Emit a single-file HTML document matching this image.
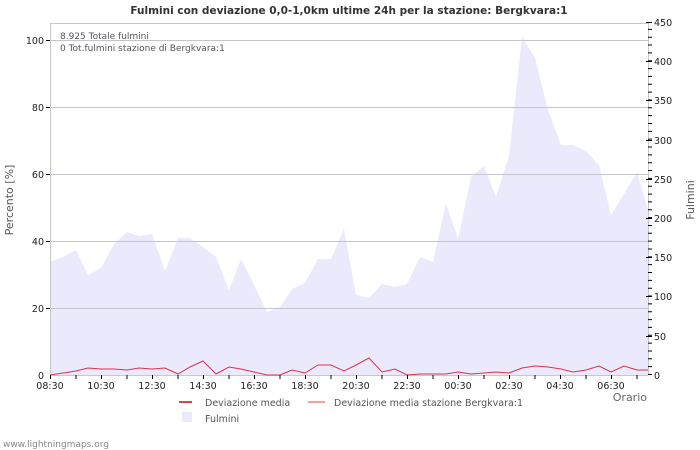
<!DOCTYPE html>
<html><head><meta charset="utf-8"><style>
html,body{margin:0;padding:0;background:#fff;}
svg{display:block;font-family:"DejaVu Sans","Liberation Sans",sans-serif;}
</style></head><body>
<svg width="700" height="450" viewBox="0 0 700 450" xmlns="http://www.w3.org/2000/svg">
<rect width="700" height="450" fill="#fff"/>
<text x="349" y="14" text-anchor="middle" font-size="10.5" font-weight="bold" fill="#333">Fulmini con deviazione 0,0-1,0km ultime 24h per la stazione: Bergkvara:1</text>
<polygon fill="#eaeafc" points="50,375 50,262 63,257 76,250 88,275 101,268 114,244 127,232 139,236 152,234 165,271 178,238 190,238 203,247 216,257 229,290 241,259 254,285 267,312 280,307 292,289 305,283 318,259 331,259 344,229 356,295 369,298 382,284 395,287 407,284 420,257 433,262 446,203 458,239 471,177 484,166 496,197 509,156 522,37 535,58 548,110 561,145 573,145 586,151 599,165 611,215 624,194 637,172 648,210 648,375"/>
<g stroke="#c4c4cc" stroke-width="1">
<line x1="50" y1="40.5" x2="648" y2="40.5"/>
<line x1="50" y1="107.5" x2="648" y2="107.5"/>
<line x1="50" y1="174.5" x2="648" y2="174.5"/>
<line x1="50" y1="241.5" x2="648" y2="241.5"/>
<line x1="50" y1="308.5" x2="648" y2="308.5"/>
</g>
<g stroke="#c8c8c8" fill="none">
<line x1="50.5" y1="23" x2="50.5" y2="375"/>
<line x1="648.5" y1="22" x2="648.5" y2="375"/>
<line x1="50" y1="23.5" x2="648" y2="23.5"/>
<line x1="50" y1="375.5" x2="648" y2="375.5"/>
</g>
<polyline fill="none" stroke="#e0304a" stroke-width="1" points="50,375 63,373 76,371 88,368 101,369 114,369 127,370 139,368 152,369 165,368 178,374 190,367 203,361 216,374 229,367 241,369 254,372 267,375 280,375 292,370 305,373 318,365 331,365 344,371 356,365 369,358 382,372 395,369 407,375 420,374 433,374 446,374 458,372 471,374 484,373 496,372 509,373 522,368 535,366 548,367 561,369 573,372 586,370 599,366 611,372 624,366 637,370 648,370"/>
<line x1="50" y1="377" x2="648" y2="377" stroke="#000" stroke-width="4" stroke-dasharray="1 24.5"/>
<line x1="650" y1="375" x2="650" y2="22" stroke="#000" stroke-width="4" stroke-dasharray="1 6.844"/>
<g stroke="#000">
<line x1="46" y1="40.5" x2="50" y2="40.5"/><line x1="46" y1="107.5" x2="50" y2="107.5"/><line x1="46" y1="174.5" x2="50" y2="174.5"/><line x1="46" y1="241.5" x2="50" y2="241.5"/><line x1="46" y1="308.5" x2="50" y2="308.5"/>
<line x1="646" y1="22.5" x2="652" y2="22.5"/><line x1="646" y1="61.5" x2="652" y2="61.5"/><line x1="646" y1="100.5" x2="652" y2="100.5"/><line x1="646" y1="140.5" x2="652" y2="140.5"/><line x1="646" y1="179.5" x2="652" y2="179.5"/><line x1="646" y1="218.5" x2="652" y2="218.5"/><line x1="646" y1="257.5" x2="652" y2="257.5"/><line x1="646" y1="296.5" x2="652" y2="296.5"/><line x1="646" y1="336.5" x2="652" y2="336.5"/>
</g>
<g font-size="9.5" fill="#222" text-anchor="end">
<text x="44" y="44">100</text><text x="44" y="111">80</text><text x="44" y="178">60</text><text x="44" y="245">40</text><text x="44" y="312">20</text><text x="44" y="379">0</text>
</g>
<g font-size="9.5" fill="#222">
<text x="654" y="26">450</text><text x="654" y="65">400</text><text x="654" y="104">350</text><text x="654" y="144">300</text><text x="654" y="183">250</text><text x="654" y="222">200</text><text x="654" y="261">150</text><text x="654" y="300">100</text><text x="654" y="340">50</text><text x="654" y="379">0</text>
</g>
<g font-size="9.5" fill="#222" text-anchor="middle">
<text x="50" y="389">08:30</text><text x="101" y="389">10:30</text><text x="152" y="389">12:30</text><text x="203" y="389">14:30</text><text x="254" y="389">16:30</text><text x="305" y="389">18:30</text><text x="356" y="389">20:30</text><text x="407" y="389">22:30</text><text x="458" y="389">00:30</text><text x="509" y="389">02:30</text><text x="560" y="389">04:30</text><text x="611" y="389">06:30</text>
</g>
<text x="647" y="401" font-size="11" fill="#666" text-anchor="end">Orario</text>
<text transform="translate(13,200) rotate(-90)" font-size="11" fill="#555" text-anchor="middle">Percento   [%]</text>
<text transform="translate(694,200) rotate(-90)" font-size="11" fill="#555" text-anchor="middle">Fulmini</text>
<g font-size="9" fill="#555">
<text x="60" y="39">8.925 Totale fulmini</text>
<text x="60" y="51">0 Tot.fulmini stazione di Bergkvara:1</text>
</g>
<line x1="179" y1="402" x2="192" y2="402" stroke="#e0404a" stroke-width="2"/>
<text x="205" y="406" font-size="9.5" fill="#555">Deviazione media</text>
<line x1="308" y1="402" x2="325" y2="402" stroke="#f4a0a0" stroke-width="2"/>
<text x="334" y="406" font-size="9.5" fill="#555">Deviazione media stazione Bergkvara:1</text>
<rect x="182" y="412" width="10" height="10" fill="#eaeafc"/>
<text x="205" y="422" font-size="9.5" fill="#555">Fulmini</text>
<text x="3" y="447" font-size="9" fill="#888">www.lightningmaps.org</text>
</svg>
</body></html>
